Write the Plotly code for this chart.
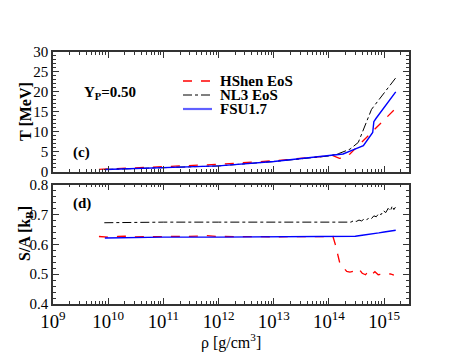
import plotly.graph_objects as go
from plotly.subplots import make_subplots

# ---------------- data ----------------
hshen_T_rho = [6.8e9, 1e10, 1e11, 1e12, 1e13, 5e13, 1e14, 1.18e14, 1.55e14, 1.8e14, 2.4e14, 3.9e14, 6.2e14, 1.5e15]
hshen_T = [0.55, 0.65, 1.2, 1.8, 2.7, 3.5, 4.0, 4.0, 3.3, 3.4, 4.4, 7.3, 10.0, 15.4]

nl3_T_rho = [8.5e9, 1e11, 1e12, 1e13, 1e14, 1.5e14, 2.4e14, 3.4e14, 4.8e14, 5.9e14, 1.62e15]
nl3_T = [0.5, 0.9, 1.4, 2.5, 3.9, 4.5, 5.6, 7.3, 12.3, 15.6, 23.5]

fsu_T_rho = [8.7e9, 1e11, 1e12, 1e13, 1e14, 1.8e14, 2.6e14, 4.2e14, 6.2e14, 6.5e14, 7.1e14, 1.62e15]
fsu_T = [0.5, 0.9, 1.4, 2.5, 3.9, 4.4, 5.3, 6.5, 9.8, 12.5, 13.3, 20.0]

hshen_S_rho = [6.8e9, 1e10, 1.5e10, 2e10, 3e10, 1e11, 5e11, 6e11, 1e12, 1e13, 1e14, 1.18e14,
               1.3e14, 1.45e14, 1.6e14, 1.8e14, 2.1e14, 2.4e14, 2.8e14, 3.2e14, 3.6e14, 4e14,
               4.6e14, 5.2e14, 6e14, 6.8e14, 7.8e14, 9e14, 1.1e15, 1.3e15, 1.5e15]
hshen_S = [0.626, 0.624, 0.626, 0.627, 0.625, 0.625, 0.627, 0.629, 0.626, 0.625, 0.626, 0.626,
           0.600, 0.560, 0.531, 0.523, 0.509, 0.507, 0.510, 0.505, 0.514, 0.503,
           0.498, 0.510, 0.499, 0.508, 0.498, 0.500, 0.499, 0.501, 0.497]

nl3_S_rho = [8.5e9, 2e10, 5e10, 1e11, 1e12, 1e13, 1e14, 2e14, 2.5e14, 2.8e14, 3.1e14, 3.5e14,
             3.9e14, 4.3e14, 4.8e14, 5.3e14, 5.9e14, 6.5e14, 7.2e14, 8e14, 8.8e14, 9.7e14,
             1.07e15, 1.18e15, 1.3e15, 1.4e15, 1.5e15, 1.6e15]
nl3_S = [0.672, 0.673, 0.675, 0.674, 0.674, 0.673, 0.672, 0.673, 0.674, 0.679, 0.676, 0.681,
         0.678, 0.684, 0.681, 0.689, 0.686, 0.695, 0.692, 0.703, 0.699, 0.712,
         0.706, 0.720, 0.712, 0.728, 0.716, 0.724]

fsu_S_rho = [8.7e9, 2e10, 1e11, 1e12, 1e13, 1e14, 3e14, 4e14, 5e14, 6.5e14, 8e14, 1e15, 1.2e15, 1.4e15, 1.62e15]
fsu_S = [0.621, 0.622, 0.624, 0.624, 0.625, 0.625, 0.627, 0.630, 0.632, 0.636, 0.638, 0.641, 0.643, 0.645, 0.647]

RED = "#ff0000"
BLACK = "#000000"
BLUE = "#0000ff"
FONT = "Times New Roman, Liberation Serif, serif"
AX = "#333333"

# the page body has an 8px margin: shrink the figure so the plot lands where the reference has it
OFF = 8
W, H = 463 - OFF, 358 - OFF
L, R, T, B = 53 - OFF, 54, 52 - OFF, 54
fig = make_subplots(rows=2, cols=1, vertical_spacing=13 / (H - T - B))

series = [
    (hshen_T_rho, hshen_T, hshen_S_rho, hshen_S, RED, "dash", 1.3, "HShen EoS"),
    (nl3_T_rho, nl3_T, nl3_S_rho, nl3_S, BLACK, "dashdot", 1.0, "NL3 EoS"),
    (fsu_T_rho, fsu_T, fsu_S_rho, fsu_S, BLUE, "solid", 1.4, "FSU1.7"),
]
for xr, yt, xs, ys, col, dash, w, name in series:
    fig.add_trace(go.Scatter(x=xr, y=yt, mode="lines", name=name,
                             line=dict(color=col, dash=dash, width=w), showlegend=False),
                  row=1, col=1)
    fig.add_trace(go.Scatter(x=xs, y=ys, mode="lines", name=name,
                             line=dict(color=col, dash=dash, width=w), showlegend=False),
                  row=2, col=1)

XRANGE = [9, 15.45]
xcommon = dict(type="log", range=XRANGE, dtick=1, exponentformat="power",
               ticks="inside", ticklen=6, tickwidth=1, tickcolor=AX,
               showline=True, linecolor=AX, linewidth=1.5, mirror="ticks",
               showgrid=False, zeroline=False,
               minor=dict(dtick="D1", ticks="inside", ticklen=3, tickcolor=AX, showgrid=False),
               tickfont=dict(family=FONT, size=15, color="black"))
fig.update_xaxes(**xcommon, row=1, col=1, showticklabels=False)
fig.update_xaxes(**xcommon, row=2, col=1, showticklabels=True)

ycommon = dict(ticks="inside", ticklen=6, tickwidth=1, tickcolor=AX,
               showline=True, linecolor=AX, linewidth=1.5, mirror="ticks",
               showgrid=False, zeroline=False,
               tickfont=dict(family=FONT, size=15, color="black"))
fig.update_yaxes(**ycommon, row=1, col=1, range=[0, 30], tick0=0, dtick=5,
                 minor=dict(dtick=1, ticks="inside", ticklen=3, tickcolor=AX, showgrid=False))
fig.update_yaxes(**ycommon, row=2, col=1, range=[0.4, 0.8], tick0=0.4, dtick=0.1,
                 tickformat=".1f",
                 minor=dict(dtick=0.02, ticks="inside", ticklen=3, tickcolor=AX, showgrid=False))


def px(x):
    return (x - 53) / (409 - 53)


def py(y):
    return (304 - y) / (304 - 52)


bold = dict(family=FONT, size=15, color="black")
fig.add_annotation(x=px(82), y=py(93), xref="paper", yref="paper",
                   text="<b>Y<sub>P</sub>=0.50</b>", xanchor="left",
                   yanchor="middle", showarrow=False, font=bold)
fig.add_annotation(x=px(71), y=py(152), xref="paper", yref="paper", text="<b>(c)</b>",
                   xanchor="left", yanchor="middle", showarrow=False, font=bold)
fig.add_annotation(x=px(71), y=py(203), xref="paper", yref="paper", text="<b>(d)</b>",
                   xanchor="left", yanchor="middle", showarrow=False, font=bold)
fig.add_annotation(x=px(25), y=py(112), xref="paper", yref="paper", text="<b>T [MeV]</b>",
                   textangle=-90, xanchor="center", yanchor="middle", showarrow=False,
                   font=dict(family=FONT, size=16, color="black"))
fig.add_annotation(x=px(25), y=py(234), xref="paper", yref="paper",
                   text="<b>S/A [k<sub>B</sub>]</b>", textangle=-90,
                   xanchor="center", yanchor="middle", showarrow=False,
                   font=dict(family=FONT, size=16, color="black"))
fig.add_annotation(x=px(231), y=py(341), xref="paper", yref="paper",
                   text="ρ [g/cm<sup>3</sup>]", xanchor="center",
                   yanchor="middle", showarrow=False, font=dict(family=FONT, size=16, color="black"))

legend_rows = [(81, RED, "dash", 1.3, "HShen EoS"), (95, BLACK, "dashdot", 1.0, "NL3 EoS"),
               (109, "#6060ff", "solid", 2.2, "FSU1.7")]
for yy, col, dash, w, name in legend_rows:
    fig.add_shape(type="line", xref="paper", yref="paper", x0=px(183), x1=px(212),
                  y0=py(yy), y1=py(yy), line=dict(color=col, dash=dash, width=w))
    fig.add_annotation(x=px(218), y=py(yy), xref="paper", yref="paper",
                       text="<b>%s</b>" % name, xanchor="left",
                       yanchor="middle", showarrow=False, font=bold)

fig.update_layout(width=W, height=H, margin=dict(l=L, r=R, t=T, b=B),
                  paper_bgcolor="white", plot_bgcolor="white", showlegend=False,
                  font=dict(family=FONT, color="black"))
fig.write_html("out.html")
